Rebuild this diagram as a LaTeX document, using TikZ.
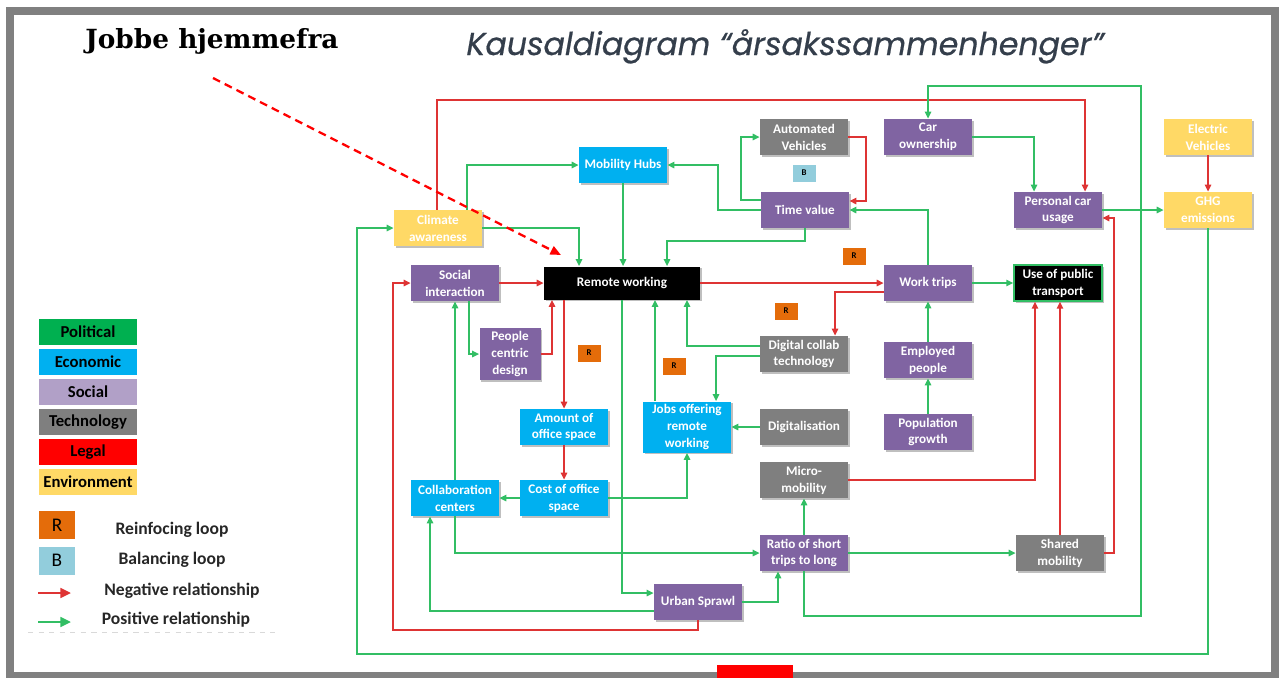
\documentclass[tikz,border=0pt]{standalone}
\usepackage{fontspec}
\setmainfont{Carlito}
\newfontfamily\titlefont[ItalicFeatures={FakeBold=0.6}]{Poppins}
\newfontfamily\headfont{DejaVu Serif}
\usetikzlibrary{arrows.meta,shadows,positioning}

\definecolor{cldsocial}{RGB}{128,100,162}
\definecolor{cldecon}{RGB}{0,176,240}
\definecolor{cldtech}{RGB}{127,127,127}
\definecolor{cldenv}{RGB}{255,217,102}
\definecolor{cldpol}{RGB}{0,176,80}
\definecolor{cldsoclight}{RGB}{177,160,199}
\definecolor{cldloopR}{RGB}{228,108,10}
\definecolor{cldloopB}{RGB}{146,205,220}
\definecolor{cldpos}{RGB}{50,190,100}
\definecolor{cldneg}{RGB}{222,52,52}
\definecolor{framegray}{RGB}{128,128,128}
\definecolor{titlegray}{RGB}{52,62,75}

\tikzset{
  factor/.style={minimum width=1.76cm, minimum height=0.72cm, align=center,
    text=white, inner sep=1pt, font=\fontsize{7.5}{9.6}\selectfont\bfseries,
    drop shadow={shadow xshift=1pt, shadow yshift=-1pt, opacity=.25, fill=black}},
  social/.style={factor, fill=cldsocial},
  econ/.style={factor, fill=cldecon},
  tech/.style={factor, fill=cldtech},
  env/.style={factor, fill=cldenv},
  focus/.style={factor, fill=black},
  loopR/.style={fill=cldloopR, minimum width=0.46cm, minimum height=0.34cm,
    inner sep=0pt, font=\fontsize{5}{5}\selectfont\bfseries},
  loopB/.style={loopR, fill=cldloopB},
  poslink/.style={draw=cldpos, line width=1pt, -{Triangle[length=4pt,width=3.6pt]}},
  neglink/.style={draw=cldneg, line width=1pt, -{Triangle[length=4pt,width=3.6pt]}},
  legbox/.style={minimum width=1.98cm, minimum height=0.52cm, inner sep=0pt,
    font=\fontsize{9.5}{10}\selectfont\bfseries},
  legloop/.style={minimum width=0.72cm, minimum height=0.56cm, inner sep=0pt,
    font=\fontsize{11}{12}\selectfont},
  legtext/.style={font=\fontsize{10}{12}\selectfont\bfseries, text=black!85},
  legarrow/.style={line width=1.4pt, -{Triangle[length=6pt,width=5.5pt]}},
  jobline/.style={draw=red, line width=1.3pt, dash pattern=on 4.5pt off 3pt,
    -{Triangle[length=6pt,width=5pt]}},
}

\begin{document}
\begin{tikzpicture}[x=0.02cm, y=-0.02cm]
\useasboundingbox (0,0) rectangle (1283,677);
\draw[draw=framegray, line width=0.16cm] (10,11) rectangle (1275,676);
\fill[red] (717,665) rectangle (793,682);

\node[anchor=base, font=\titlefont\itshape\fontsize{18}{20}\selectfont, text=titlegray] (title) at (785,55) {Kausaldiagram “årsakssammenhenger”};
\node[anchor=base, font=\headfont\bfseries\fontsize{15}{17}\selectfont] (jh) at (212,48) {Jobbe hjemmefra};

% factors
\node[econ] (mh) at (623,165) {Mobility Hubs};
\node[tech] (av) at (804,137) {Automated\\Vehicles};
\node[social] (co) at (928,137) {Car\\ownership};
\node[env] (ev) at (1208,137) {Electric\\Vehicles};
\node[loopB] (b1) at (804,173) {B};
\node[social] (tv) at (805,210) {Time value};
\node[social] (pcu) at (1058,210) {Personal car\\usage};
\node[env] (ghg) at (1208,210) {GHG\\emissions};
\node[env] (ca) at (438,228) {Climate\\awareness};
\node[loopR] (r1) at (854,256) {R};
\node[social] (si) at (455,283) {Social\\interaction};
\node[focus, minimum width=3.12cm, minimum height=0.66cm] (rw) at (622,283) {Remote working};
\node[social] (wt) at (928,283) {Work trips};
\node[focus, draw=cldpos, line width=0.8pt] (upt) at (1058,283) {Use of public\\transport};
\node[loopR] (r2) at (786,311) {R};
\node[social, minimum width=1.22cm, minimum height=1.04cm] (pcd) at (510,354) {People\\centric\\design};
\node[loopR] (r3) at (589,353) {R};
\node[tech] (dct) at (804,354) {Digital collab\\technology};
\node[social] (ep) at (928,360) {Employed\\people};
\node[loopR] (r4) at (674,366) {R};
\node[econ] (aos) at (564,427) {Amount of\\office space};
\node[econ, minimum height=1.02cm] (jo) at (687,427) {Jobs offering\\remote\\working};
\node[tech] (dig) at (804,427) {Digitalisation};
\node[social] (pg) at (928,432) {Population\\growth};
\node[tech] (mm) at (804,480) {Micro-\\mobility};
\node[econ] (cc) at (455,498) {Collaboration\\centers};
\node[econ] (cos) at (564,498) {Cost of office\\space};
\node[social] (rs) at (804,553) {Ratio of short\\trips to long};
\node[tech] (sm) at (1060,553) {Shared\\mobility};
\node[social] (us) at (698,602) {Urban Sprawl};

% negative links
\draw[neglink] (ca.north -| 437,0) -- ++(0,-110) -| (pcu.north -| 1085,0);
\draw[neglink] (si) -- (rw);
\draw[neglink] (pcd) -| (rw.south -| 552,0);
\draw[neglink] (rw.south -| aos.north) -- (aos.north);
\draw[neglink] (aos) -- (cos);
\draw[neglink] (rw) -- (wt);
\draw[neglink] (wt.west |- 0,292) -| (dct.north -| 835,0);
\draw[neglink] (mm) -| (upt.south -| 1035,0);
\draw[neglink] (sm) -- (sm |- upt.south);
\draw[neglink] (sm.east) -- ++(10,0) |- (pcu.east |- 0,218);
\draw[neglink] (ev) -- (ghg);
\draw[neglink] (av.east) -- ++(18,0) |- (tv.east |- 0,201);
\draw[neglink] (us.south) -- ++(0,10) -| (si.west -| 393,0) -- (si.west);

% positive links
\draw[poslink] (ca.north -| 467,0) |- (mh);
\draw[poslink] (ca) -| (rw.north -| 579,0);
\draw[poslink] (mh.south) -- (mh.south |- rw.north);
\draw[poslink] (tv.south) -- ++(0,13) -| (rw.north -| 667,0);
\draw[poslink] (tv.west) -- ++(-43,0) |- (mh);
\draw[poslink] (tv.west |- 0,200) -- ++(-20,0) |- (av);
\draw[poslink] (wt.north) |- (tv);
\draw[poslink] (wt) -- (upt);
\draw[poslink] (ep) -- (wt);
\draw[poslink] (pg) -- (ep);
\draw[poslink] (dct.west |- 0,346) -| (rw.south -| 687,0);
\draw[poslink] (dct.west |- 0,356) -| (jo.north -| 716,0);
\draw[poslink] (dig) -- (jo);
\draw[poslink] (jo.north -| 655,0) -- (rw.south -| 655,0);
\draw[poslink] (cos) -| (jo.south);
\draw[poslink] (cos) -- (cc);
\draw[poslink] (si.south -| 469,0) |- (pcd);
\draw[poslink] (cc) -- (si);
\draw[poslink] (cc.south) |- (rs);
\draw[poslink] (rw.south -| 622,0) |- (us.west |- 0,593);
\draw[poslink] (us.west |- 0,611) -| (cc.south -| 430,0);
\draw[poslink] (us) -| (rs.south -| 778,0);
\draw[poslink] (rs) -- (mm);
\draw[poslink] (rs) -- (sm);
\draw[poslink] (rs.south) -- ++(0,45) -| (1141,86) -| (co);
\draw[poslink] (co) -| (pcu.north -| 1034,0);
\draw[poslink] (pcu) -- (ghg);
\draw[poslink] (ghg.south) -- ++(0,426) -| (357,228) -- (ca);

% legend
\node[legbox, fill=cldpol] (lpol) at (88,332) {Political};
\node[legbox, fill=cldecon, below=0.066cm of lpol] (lecon) {Economic};
\node[legbox, fill=cldsoclight, below=0.066cm of lecon] (lsoc) {Social};
\node[legbox, fill=cldtech, below=0.066cm of lsoc] (ltech) {Technology};
\node[legbox, fill=red, below=0.066cm of ltech] (llegal) {Legal};
\node[legbox, fill=cldenv, below=0.066cm of llegal] (lenv) {Environment};
\node[legloop, fill=cldloopR] (lr) at (57,525) {R};
\node[legloop, fill=cldloopB, below=0.14cm of lr] (lb) {B};
\node[legtext] (lrt) at (172,530) {Reinfocing loop};
\node[legtext] (lbt) at (172,560) {Balancing loop};
\node[legtext] (lnt) at (182,591) {Negative relationship};
\node[legtext] (lpt) at (176,620) {Positive relationship};
\coordinate (lnegA) at (38,593);
\coordinate (lnegB) at (71,593);
\coordinate (lposA) at (38,622);
\coordinate (lposB) at (71,622);
\draw[neglink, legarrow] (lnegA) -- (lnegB);
\draw[poslink, legarrow] (lposA) -- (lposB);
\draw[black!15, dashed] (28,632) -- (275,632);

\coordinate (jhA) at (213,78);
\coordinate (jhB) at (561,255);
\draw[jobline] (jhA) -- (jhB);
\end{tikzpicture}
\end{document}
